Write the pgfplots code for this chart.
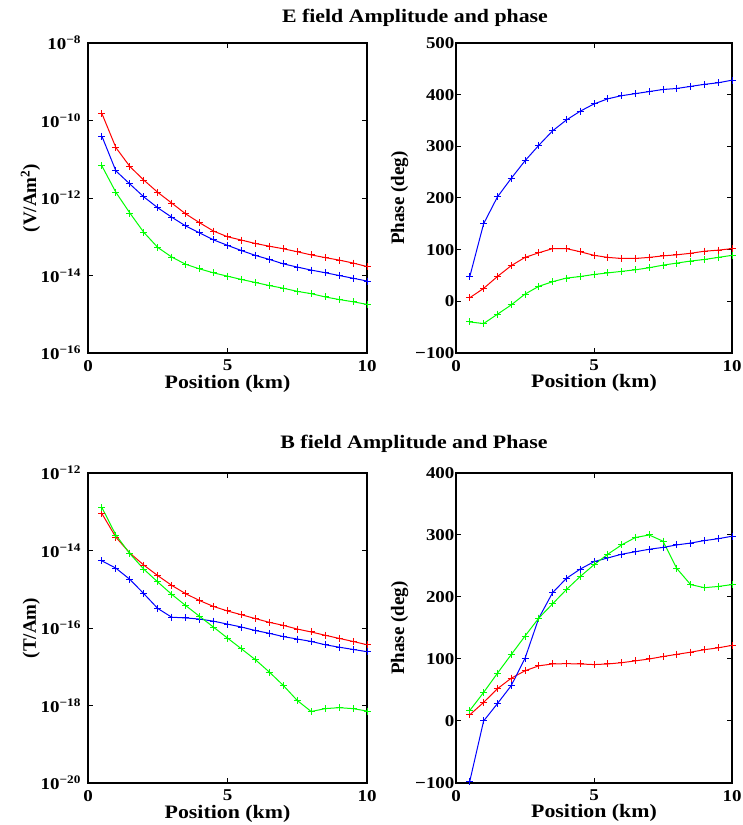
\documentclass[border=0pt]{standalone}
\usepackage{fontspec}
\setmainfont{Liberation Serif}[FakeStretch=1.15]
\newfontfamily\ylabfam{Liberation Serif}
\usepackage{pgfplots}
\usepackage{pgfplotstable}
\pgfplotsset{compat=1.18}

\newcommand{\tickfont}{\fontsize{16.5}{18}\selectfont\bfseries}
\newcommand{\labfont}{\fontsize{19}{22}\selectfont\bfseries}
\newcommand{\ylabfont}{\ylabfam\fontsize{19}{22}\selectfont\bfseries}

\definecolor{mred}{rgb}{1,0,0}
\definecolor{mblue}{rgb}{0,0,1}
\definecolor{mgreen}{rgb}{0,1,0}

\pgfplotstableread{
x r b g
0.5 1.5e-10 3.9e-11 6.7e-12
1 2.0e-11 5.0e-12 1.4e-12
1.5 6.5e-12 2.3e-12 4.1e-13
2 2.9e-12 1.07e-12 1.3e-13
2.5 1.4e-12 5.6e-13 5.3e-14
3 7.4e-13 3.2e-13 3.0e-14
3.5 3.9e-13 1.9e-13 1.95e-14
4 2.3e-13 1.26e-13 1.48e-14
4.5 1.4e-13 8.3e-14 1.17e-14
5 1.0e-13 6.0e-14 9.6e-15
5.5 8.2e-14 4.4e-14 7.9e-15
6 6.7e-14 3.3e-14 6.6e-15
6.5 5.7e-14 2.6e-14 5.5e-15
7 4.9e-14 2.0e-14 4.7e-15
7.5 4.1e-14 1.65e-14 3.9e-15
8 3.4e-14 1.38e-14 3.4e-15
8.5 2.9e-14 1.18e-14 2.8e-15
9 2.5e-14 1.0e-14 2.4e-15
9.5 2.1e-14 8.5e-15 2.1e-15
10 1.7e-14 7.2e-15 1.8e-15
}\Eamp

\pgfplotstableread{
x r b g
0.5 7 48 -40
1 25 150 -43
1.5 48 202 -25
2 69 238 -7
2.5 85 272 14
3 94 302 29
3.5 102 330 38
4 102 351 45
4.5 96 368 48
5 89 382 52
5.5 85 392 55
6 83 398 58
6.5 83 402 61
7 85 406 65
7.5 88 410 70
8 90 412 74
8.5 93 416 78
9 97 420 81
9.5 99 423 85
10 102 428 89
}\Ephase

\pgfplotstableread{
x r b g
0.5 8.9e-14 5.4e-15 1.28e-13
1 2.2e-14 3.5e-15 2.5e-14
1.5 8.6e-15 1.8e-15 8.3e-15
2 4.2e-15 7.7e-16 3.3e-15
2.5 2.25e-15 3.2e-16 1.54e-15
3 1.26e-15 1.9e-16 7.4e-16
3.5 7.7e-16 1.82e-16 3.8e-16
4 5.1e-16 1.7e-16 2.0e-16
4.5 3.6e-16 1.5e-16 1.05e-16
5 2.75e-16 1.26e-16 5.5e-17
5.5 2.2e-16 1.06e-16 2.9e-17
6 1.75e-16 8.6e-17 1.52e-17
6.5 1.4e-16 7.3e-17 7.3e-18
7 1.17e-16 6.0e-17 3.3e-18
7.5 9.4e-17 5.2e-17 1.35e-18
8 7.9e-17 4.5e-17 7.0e-19
8.5 6.5e-17 3.7e-17 8.3e-19
9 5.4e-17 3.2e-17 8.8e-19
9.5 4.5e-17 2.8e-17 8.3e-19
10 3.7e-17 2.45e-17 7.2e-19
}\Bamp

\pgfplotstableread{
x r b g
0.5 10 -97 17
1 30 0 46
1.5 52 28 77
2 69 57 107
2.5 81 101 137
3 89 166 166
3.5 92 207 189
4 92.5 230 212
4.5 92 245 233
5 91 257 252
5.5 92 263 269
6 94 269 284
6.5 97 273 296
7 100 277 300
7.5 104 280 290
8 107.5 284 246
8.5 111 287 220
9 115 291 215
9.5 118 294 217
10 122 298 220
}\Bphase

\pgfplotsset{
  mstyle/.style={
    scale only axis, anchor=south west, height=310pt,
    axis line style={line width=1.5pt},
    tick align=inside, tick pos=both,
    major tick length=5pt,
    tick style={line width=1pt, black},
    ticklabel style={font=\tickfont},
    xticklabel style={yshift=-3.5pt},
    xmin=0, xmax=10, xtick={0,5,10}, xticklabels={0,5,10},
    xlabel={Position (km)},
    xlabel style={at={([yshift=-35pt]axis description cs:0.5,0)}, anchor=base, font=\labfont},
    ylabel style={at={([xshift=-52pt]axis description cs:0,0.5)}, anchor=base, font=\ylabfont},
    clip=false,
    every axis plot/.append style={line width=1pt, mark=+, mark size=3.5pt, mark options={solid}},
  },
}

\begin{document}
\begin{tikzpicture}
\path[use as bounding box] (0,0) rectangle (743pt,825pt);

\node[font=\labfont, anchor=base] at (415pt,802.5pt) {E field Amplitude and phase};
\node[font=\labfont, anchor=base] at (414pt,376pt) {B field Amplitude and Phase};

% E amplitude
\begin{axis}[ymode=log, mstyle, yticklabel style={xshift=-3.5pt}, at={(88pt,472pt)}, width=279pt,
  ymin=1e-16, ymax=1e-8,
  ytick={1e-16,1e-14,1e-12,1e-10,1e-8},
  minor ytick={},
  yticklabels={10\textsuperscript{−16},10\textsuperscript{−14},10\textsuperscript{−12},10\textsuperscript{−10},10\textsuperscript{−8}},
  ylabel={(V/Am\textsuperscript{2})}]
\addplot[mred] table[x=x,y=r] {\Eamp};
\addplot[mblue] table[x=x,y=b] {\Eamp};
\addplot[mgreen] table[x=x,y=g] {\Eamp};
\end{axis}

% E phase
\begin{axis}[mstyle, yticklabel style={xshift=2pt}, at={(456pt,472pt)}, width=276pt,
  ymin=-100, ymax=500,
  ytick={-100,0,100,200,300,400,500},
  yticklabels={−100,0,100,200,300,400,500},
  ylabel={Phase (deg)}]
\addplot[mblue] table[x=x,y=b] {\Ephase};
\addplot[mred] table[x=x,y=r] {\Ephase};
\addplot[mgreen] table[x=x,y=g] {\Ephase};
\end{axis}

% B amplitude
\begin{axis}[ymode=log, mstyle, yticklabel style={xshift=-3.5pt}, at={(88pt,42pt)}, width=279pt,
  ymin=1e-20, ymax=1e-12,
  ytick={1e-20,1e-18,1e-16,1e-14,1e-12},
  minor ytick={},
  yticklabels={10\textsuperscript{−20},10\textsuperscript{−18},10\textsuperscript{−16},10\textsuperscript{−14},10\textsuperscript{−12}},
  ylabel={(T/Am)}]
\addplot[mred] table[x=x,y=r] {\Bamp};
\addplot[mblue] table[x=x,y=b] {\Bamp};
\addplot[mgreen] table[x=x,y=g] {\Bamp};
\end{axis}

% B phase
\begin{axis}[mstyle, yticklabel style={xshift=2pt}, at={(456pt,42pt)}, width=276pt,
  ymin=-100, ymax=400,
  ytick={-100,0,100,200,300,400},
  yticklabels={−100,0,100,200,300,400},
  ylabel={Phase (deg)}]
\addplot[mred] table[x=x,y=r] {\Bphase};
\addplot[mblue] table[x=x,y=b] {\Bphase};
\addplot[mgreen] table[x=x,y=g] {\Bphase};
\end{axis}
\end{tikzpicture}
\end{document}
